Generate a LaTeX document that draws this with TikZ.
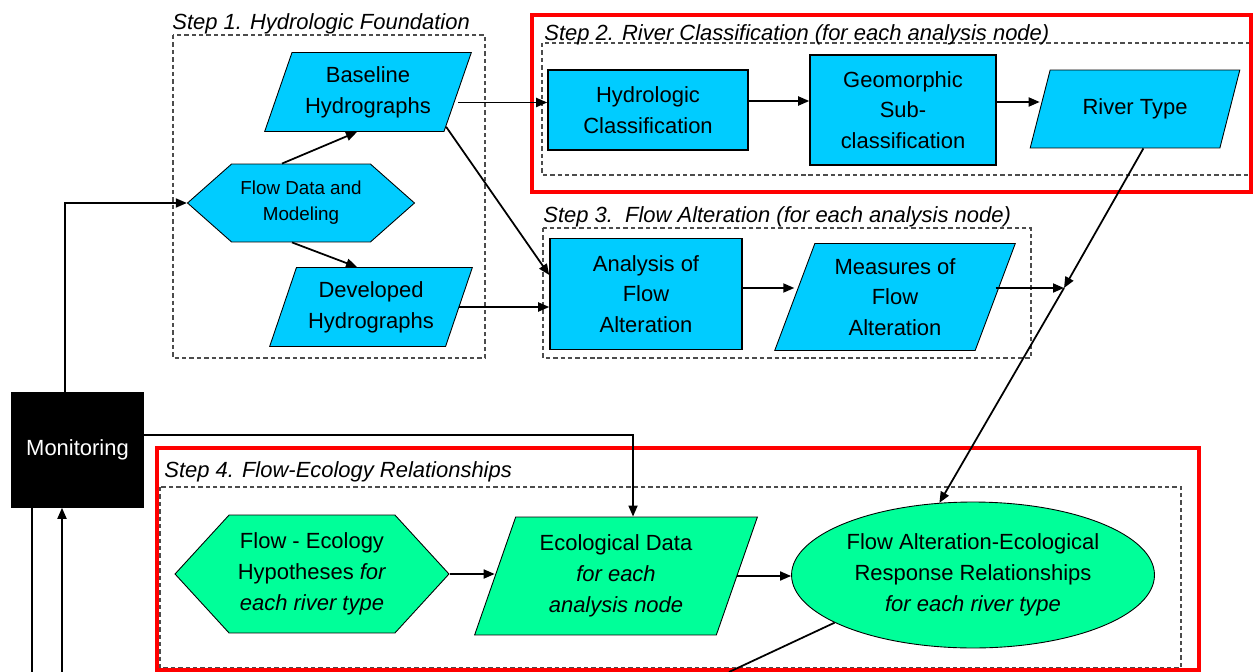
\documentclass[tikz,border=0pt]{standalone}
\usepackage{fontspec}
\setmainfont{Liberation Sans}
\usetikzlibrary{shapes.geometric,shapes.symbols,arrows.meta,calc}
\definecolor{hydro}{RGB}{0,204,255}
\definecolor{ecol}{RGB}{0,255,153}

\begin{document}
\begin{tikzpicture}[
    x=0.02cm, y=-0.02cm,
    box/.style={draw, line width=0.9pt, fill=hydro, align=center, inner sep=1pt, font=\fontsize{12.5}{17.5}\selectfont},
    para/.style={box, trapezium, trapezium stretches=true, line width=0.5pt},
    hexa/.style={box, signal, signal to=east and west, line width=0.5pt},
    monbox/.style={box, fill=black, text=white},
    steplabel/.style={anchor=base west, inner sep=0pt, font=\fontsize{12.5}{15}\selectfont\itshape},
    stepbox/.style={draw=black!70, dash pattern=on 2.5pt off 1.7pt, line width=0.6pt},
    redbox/.style={draw=red, line width=2.3pt},
    arrow/.style={-{Triangle[length=2.2mm,width=1.8mm]}, line width=1pt},
    link/.style={line width=1pt}
]
\useasboundingbox (0,0) rectangle (1253,672);

% ========== FRAMES ==========
\draw[stepbox] (173,35) rectangle (485,358);
\draw[stepbox] (542,43) rectangle (1251,175);
\draw[stepbox] (543,228) rectangle (1031,358);
\draw[stepbox] (160,487) rectangle (1181,668);
\draw[redbox] (532,15) rectangle (1251,192);
\draw[redbox] (157,448) rectangle (1199,670);

\node[steplabel] (s1) at (172,30) {Step 1. Hydrologic Foundation};
\node[steplabel] (s2) at (544,41) {Step 2. River Classification (for each analysis node)};
\node[steplabel] (s3) at (543,222) {Step 3.\ \ Flow Alteration (for each analysis node)};
\node[steplabel] (s4) at (164,477) {Step 4. Flow-Ecology Relationships};

% ========== STEP 1 ==========
\node[hexa, minimum width=4.54cm, minimum height=1.56cm, signal pointer angle=83,
      font=\fontsize{10.7}{14.8}\selectfont] (fdm) at (301,203) {Flow Data and\\Modeling};
\node[para, minimum width=4.18cm, minimum height=1.58cm, trapezium left angle=67, trapezium right angle=113] (base) at (368,92) {Baseline\\Hydrographs};
\node[para, minimum width=4.1cm, minimum height=1.58cm, trapezium left angle=67, trapezium right angle=113] (dev) at (371,307) {Developed\\Hydrographs};

\draw[arrow] ([xshift=-0.38cm]fdm.north) -- ([xshift=-0.22cm]base.south);
\draw[arrow] ([xshift=-0.18cm]fdm.south) -- ([xshift=-0.28cm]dev.north);

% ========== STEP 2 ==========
\node[box, minimum width=4cm, minimum height=1.6cm] (hcls) at (648,110) {Hydrologic\\Classification};
\node[box, minimum width=3.72cm, minimum height=2.2cm] (gsub) at (903,110) {Geomorphic\\Sub-\\classification};
\node[para, minimum width=4.2cm, minimum height=1.56cm, trapezium left angle=62, trapezium right angle=118] (rtype) at (1135,109) {River Type};

\draw[arrow] ([yshift=-0.21cm]base.east) -- ([yshift=-0.21cm]base.east -| hcls.west);
\draw[arrow] ([yshift=0.18cm]hcls.east) -- ([yshift=0.18cm]hcls.east -| gsub.west);
\draw[arrow] ([yshift=0.16cm]gsub.east) -- ([yshift=0.16cm]gsub.east -| rtype.west);

% ========== STEP 3 ==========
\node[box, minimum width=3.84cm, minimum height=2.22cm] (ana) at (646,294) {Analysis of\\Flow\\Alteration};
\node[para, minimum width=4.82cm, minimum height=2.14cm, trapezium left angle=69, trapezium right angle=111] (meas) at (895,297) {Measures of\\Flow\\Alteration};
\coordinate (jn) at (1064,288);

\draw[arrow] (base.-24) -- ([yshift=0.38cm]ana.west);
\draw[arrow] (dev.east) -- (dev.east -| ana.west);
\draw[arrow] ([yshift=0.12cm]ana.east) -- ([yshift=0.12cm]ana.east -| meas.west);
\draw[arrow] (meas.east |- jn) -- (jn);

% ========== MONITORING ==========
\node[monbox, minimum width=2.62cm, minimum height=2.28cm] (mon) at (77.5,450) {Monitoring};
\coordinate (outl) at (32,672);
\coordinate (outr) at (62,672);

% ========== STEP 4 ==========
\node[hexa, fill=ecol, minimum width=5.48cm, minimum height=2.36cm, signal pointer angle=95] (hyp) at (312,574) {Flow - Ecology\\Hypotheses \textit{for}\\\textit{each river type}};
\node[para, fill=ecol, minimum width=5.66cm, minimum height=2.36cm, trapezium left angle=69.5, trapezium right angle=110.5] (eco) at (616,576) {Ecological Data\\\textit{for each}\\\textit{analysis node}};
\node[box, ellipse, fill=ecol, line width=0.5pt, inner sep=0pt, minimum width=7.26cm, minimum height=2.92cm] (rel) at (973,575) {Flow Alteration-Ecological\\Response Relationships\\\textit{for each river type}};
\coordinate (outm) at (729,672);

\draw[arrow] (hyp.east) -- (hyp.east -| eco.west);
\draw[arrow] (eco.east) -- (eco.east -| rel.west);
\draw[arrow] (rtype.-78) -- (jn);
\draw[arrow] (jn) -- (rel.115);
\draw[link] (rel.199) -- (outm);

% ========== FEEDBACK LINES ==========
\draw[arrow] ([xshift=-0.25cm]mon.north) |- (fdm.west);
\draw[arrow] ([yshift=0.3cm]mon.east) -| ([xshift=0.34cm]eco.north);
\draw[link] (mon.south -| outl) -- (outl);
\draw[arrow] (outr) -- (mon.south -| outr);

\end{tikzpicture}
\end{document}
